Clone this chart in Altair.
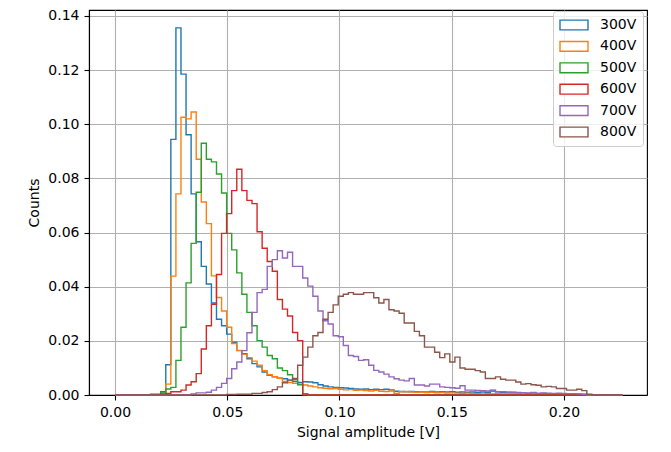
import altair as alt
import pandas as pd

# Shared histogram bins (100 bins over the combined data range)
X_MIN = 0.0
BIN_WIDTH = 0.00226
N_BINS = 100

labels = ["300V", "400V", "500V", "600V", "700V", "800V"]
colors = ["#1f77b4", "#ff7f0e", "#2ca02c", "#d62728", "#9467bd", "#8c564b"]

counts_300V = [
    0, 0, 0, 0, 0, 0, 0, 0, 0, 0.0012,
    0.0112, 0.0944, 0.1356, 0.1185, 0.0961, 0.0743, 0.0566, 0.0475, 0.0410, 0.0340,
    0.0280, 0.0256, 0.0225, 0.0195, 0.0164, 0.0153, 0.0134, 0.0116, 0.0104, 0.0085,
    0.0073, 0.0067, 0.0062, 0.0060, 0.0055, 0.0050, 0.0046, 0.0049, 0.0048, 0.0045,
    0.0038, 0.0033, 0.0030, 0.0028, 0.0027, 0.0026, 0.0024, 0.0022, 0.0021, 0.0022,
    0.0020, 0.0021, 0.0020, 0.0021, 0.0019, 0.0014, 0.0013, 0.0012, 0.0013, 0.0012,
    0.0012, 0.0011, 0.0013, 0.0011, 0.0012, 0.0011, 0.0012, 0.0010, 0.0011, 0.0010,
    0.0011, 0.0010, 0.0011, 0.0010, 0.0018, 0.0012, 0.0009, 0.0008, 0.0009, 0.0007,
    0.0008, 0.0006, 0.0007, 0.0005, 0.0006, 0.0005, 0.0004, 0.0005, 0.0004, 0.0003,
    0.0004, 0.0003, 0.0002, 0, 0, 0, 0, 0, 0, 0,
]
counts_400V = [
    0, 0, 0, 0, 0, 0, 0, 0, 0, 0,
    0.0040, 0.0439, 0.0743, 0.1026, 0.1020, 0.1045, 0.0871, 0.0713, 0.0633, 0.0440,
    0.0360, 0.0310, 0.0250, 0.0190, 0.0165, 0.0150, 0.0138, 0.0125, 0.0110, 0.0090,
    0.0075, 0.0068, 0.0062, 0.0050, 0.0046, 0.0043, 0.0040, 0.0037, 0.0033, 0.0030,
    0.0027, 0.0025, 0.0023, 0.0024, 0.0021, 0.0019, 0.0020, 0.0017, 0.0018, 0.0016,
    0.0015, 0.0017, 0.0014, 0.0013, 0.0015, 0.0006, 0.0012, 0.0013, 0.0011, 0.0010,
    0.0011, 0.0009, 0.0010, 0.0008, 0.0009, 0.0007, 0.0008, 0.0007, 0.0006, 0.0007,
    0.0005, 0.0005, 0.0004, 0.0005, 0.0004, 0.0005, 0.0004, 0.0004, 0.0005, 0.0004,
    0.0003, 0.0003, 0.0003, 0.0003, 0.0003, 0.0003, 0.0003, 0.0002, 0.0003, 0.0002,
    0.0002, 0.0002, 0.0002, 0, 0, 0, 0, 0, 0, 0,
]
counts_500V = [
    0, 0, 0, 0, 0, 0, 0, 0, 0, 0.0008,
    0.0022, 0.0028, 0.0128, 0.0250, 0.0414, 0.0560, 0.0749, 0.0930, 0.0871, 0.0861,
    0.0816, 0.0746, 0.0597, 0.0536, 0.0451, 0.0372, 0.0305, 0.0256, 0.0201, 0.0177,
    0.0146, 0.0134, 0.0100, 0.0090, 0.0075, 0.0057, 0.0038, 0.0005, 0, 0,
    0, 0, 0, 0, 0, 0, 0, 0, 0, 0,
    0, 0, 0, 0, 0, 0, 0, 0, 0, 0,
    0, 0, 0, 0, 0, 0, 0, 0, 0, 0,
    0, 0, 0, 0, 0, 0, 0, 0, 0, 0,
    0, 0, 0, 0, 0, 0, 0, 0, 0, 0,
    0, 0, 0, 0, 0, 0, 0, 0, 0, 0,
]
counts_600V = [
    0, 0, 0, 0, 0, 0, 0, 0.0003, 0.0003, 0.0004,
    0.0006, 0.0012, 0.0012, 0.0018, 0.0037, 0.0049, 0.0079, 0.0170, 0.0256, 0.0335,
    0.0445, 0.0597, 0.0670, 0.0755, 0.0834, 0.0755, 0.0719, 0.0707, 0.0603, 0.0542,
    0.0493, 0.0457, 0.0353, 0.0317, 0.0292, 0.0231, 0.0201, 0, 0, 0,
    0, 0, 0, 0, 0, 0, 0, 0, 0, 0,
    0, 0, 0, 0, 0, 0, 0, 0, 0, 0,
    0, 0, 0, 0, 0, 0, 0, 0, 0, 0,
    0, 0, 0, 0, 0, 0, 0, 0, 0, 0,
    0, 0, 0, 0, 0, 0, 0, 0, 0, 0,
    0, 0, 0, 0, 0, 0, 0, 0, 0, 0,
]
counts_700V = [
    0, 0, 0, 0, 0, 0, 0, 0, 0, 0,
    0, 0, 0, 0, 0, 0.0004, 0.0008, 0.0008, 0.0010, 0.0018,
    0.0028, 0.0043, 0.0061, 0.0097, 0.0122, 0.0164, 0.0230, 0.0305, 0.0378, 0.0390,
    0.0475, 0.0500, 0.0533, 0.0506, 0.0527, 0.0475, 0.0475, 0.0432, 0.0402, 0.0365,
    0.0310, 0.0274, 0.0262, 0.0219, 0.0215, 0.0183, 0.0146, 0.0142, 0.0128, 0.0130,
    0.0110, 0.0091, 0.0085, 0.0077, 0.0067, 0.0060, 0.0055, 0.0052, 0.0061, 0.0037,
    0.0037, 0.0033, 0.0040, 0.0040, 0.0030, 0.0028, 0.0027, 0.0025, 0.0034, 0.0018,
    0.0018, 0.0017, 0.0016, 0.0015, 0.0014, 0.0012, 0.0012, 0.0011, 0.0010, 0.0009,
    0.0008, 0.0008, 0.0009, 0.0007, 0.0008, 0.0007, 0.0006, 0.0007, 0.0006, 0.0005,
    0.0005, 0.0004, 0.0003, 0, 0, 0, 0, 0, 0, 0,
]
counts_800V = [
    0, 0, 0, 0, 0, 0, 0, 0, 0, 0,
    0, 0, 0, 0, 0, 0, 0, 0, 0, 0,
    0, 0, 0.0002, 0.0002, 0.0003, 0.0003, 0.0003, 0.0006, 0.0006, 0.0009,
    0.0012, 0.0020, 0.0030, 0.0045, 0.0055, 0.0061, 0.0110, 0.0140, 0.0177, 0.0219,
    0.0231, 0.0280, 0.0305, 0.0333, 0.0365, 0.0372, 0.0378, 0.0372, 0.0372, 0.0378,
    0.0378, 0.0359, 0.0340, 0.0353, 0.0315, 0.0310, 0.0302, 0.0266, 0.0266, 0.0235,
    0.0219, 0.0177, 0.0177, 0.0158, 0.0138, 0.0152, 0.0122, 0.0140, 0.0100, 0.0095,
    0.0095, 0.0090, 0.0085, 0.0061, 0.0061, 0.0067, 0.0058, 0.0055, 0.0055, 0.0048,
    0.0040, 0.0042, 0.0038, 0.0036, 0.0030, 0.0032, 0.0030, 0.0024, 0.0024, 0.0018,
    0.0018, 0.0021, 0.0016, 0.0003, 0, 0, 0, 0, 0, 0,
]

series = [counts_300V, counts_400V, counts_500V, counts_600V, counts_700V, counts_800V]

rows = []
edges = [X_MIN + i * BIN_WIDTH for i in range(N_BINS + 1)]
for name, vals in zip(labels, series):
    pts = [(edges[0], 0.0)]
    pts += [(edges[i], vals[i]) for i in range(N_BINS)]
    pts += [(edges[N_BINS], vals[-1]), (edges[N_BINS], 0.0)]
    for j, (x, y) in enumerate(pts):
        rows.append({"series": name, "x": x, "y": y, "order": j})
df = pd.DataFrame(rows)

FONT = "DejaVu Sans"

chart = alt.Chart(df).mark_line(interpolate="step-after", strokeWidth=1.4).encode(
    x=alt.X("x:Q",
            scale=alt.Scale(domain=[-0.0116, 0.237], nice=False, zero=False),
            axis=alt.Axis(values=[0.0, 0.05, 0.10, 0.15, 0.20], format=".2f",
                          title="Signal amplitude [V]", titlePadding=6)),
    y=alt.Y("y:Q",
            scale=alt.Scale(domain=[0, 0.1422], nice=False),
            axis=alt.Axis(values=[0.0, 0.02, 0.04, 0.06, 0.08, 0.10, 0.12, 0.14], format=".2f",
                          title="Counts", titlePadding=6)),
    color=alt.Color("series:N",
                    scale=alt.Scale(domain=labels, range=colors),
                    legend=alt.Legend(
                        title=None, orient="none", legendX=464, legendY=1,
                        symbolType="M-1,-0.7L3,-0.7L3,0.7L-1,0.7Z",
                        symbolSize=196, symbolStrokeWidth=1.4,
                        symbolFillColor="white",
                        labelFont=FONT, labelFontSize=14, labelColor="black",
                        labelOffset=25, rowPadding=5.4, padding=6,
                        fillColor="rgba(255,255,255,0.8)", strokeColor="#cccccc",
                        cornerRadius=3)),
    order="order:Q",
).properties(
    width=558, height=385,
    autosize=alt.AutoSizeParams(type="none"),
    padding={"left": 81, "top": 2, "right": 16, "bottom": 49},
).configure_axis(
    labelFont=FONT, labelFontSize=14, labelColor="black",
    titleFont=FONT, titleFontSize=14, titleFontWeight="normal", titleColor="black",
    domainColor="black", domainWidth=1.1, tickColor="black", tickWidth=1.1,
    tickSize=5, labelPadding=5, gridColor="#b0b0b0", gridWidth=1.1,
).configure_view(stroke="black", strokeWidth=1.1)

chart.save("out.html", embed_options={"renderer": "svg", "actions": False})
